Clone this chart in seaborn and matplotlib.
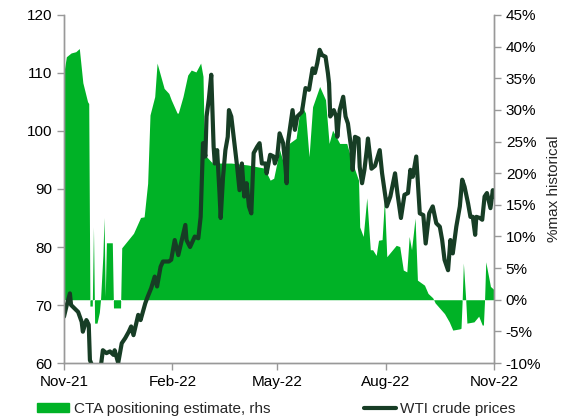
import numpy as np
import pandas as pd
import matplotlib
matplotlib.use("Agg")
import matplotlib.pyplot as plt
import matplotlib.dates as mdates
from matplotlib.patches import Patch
from matplotlib.lines import Line2D
import seaborn as sns

# WTI crude prices (USD/bbl)
wti_dates = [
    "2021-11-01", "2021-11-03", "2021-11-06", "2021-11-07", "2021-11-10", "2021-11-13",
    "2021-11-16", "2021-11-17", "2021-11-20", "2021-11-22", "2021-11-23", "2021-11-25",
    "2021-11-28", "2021-12-02", "2021-12-04", "2021-12-07", "2021-12-10", "2021-12-13",
    "2021-12-14", "2021-12-17", "2021-12-20", "2021-12-23", "2021-12-26", "2021-12-28",
    "2021-12-30", "2022-01-03", "2022-01-05", "2022-01-09", "2022-01-11", "2022-01-14",
    "2022-01-17", "2022-01-19", "2022-01-22", "2022-01-24", "2022-01-29", "2022-01-31",
    "2022-02-03", "2022-02-06", "2022-02-09", "2022-02-12", "2022-02-13", "2022-02-16",
    "2022-02-20", "2022-02-23", "2022-02-25", "2022-02-27", "2022-03-01", "2022-03-02",
    "2022-03-04", "2022-03-06", "2022-03-08", "2022-03-09", "2022-03-11", "2022-03-13",
    "2022-03-14", "2022-03-16", "2022-03-18", "2022-03-20", "2022-03-21", "2022-03-23",
    "2022-03-26", "2022-03-28", "2022-03-30", "2022-04-01", "2022-04-03", "2022-04-05",
    "2022-04-07", "2022-04-09", "2022-04-11", "2022-04-14", "2022-04-16", "2022-04-18",
    "2022-04-21", "2022-04-22", "2022-04-25", "2022-04-28", "2022-04-29", "2022-05-01",
    "2022-05-03", "2022-05-06", "2022-05-08", "2022-05-09", "2022-05-10", "2022-05-12",
    "2022-05-14", "2022-05-16", "2022-05-18", "2022-05-22", "2022-05-25", "2022-05-28",
    "2022-05-31", "2022-06-02", "2022-06-04", "2022-06-06", "2022-06-08", "2022-06-11",
    "2022-06-13", "2022-06-14", "2022-06-15", "2022-06-18", "2022-06-20", "2022-06-21",
    "2022-06-23", "2022-06-26", "2022-06-28", "2022-06-30", "2022-07-03", "2022-07-04",
    "2022-07-06", "2022-07-09", "2022-07-10", "2022-07-12", "2022-07-14", "2022-07-16",
    "2022-07-17", "2022-07-20", "2022-07-23", "2022-07-27", "2022-07-29", "2022-08-02",
    "2022-08-05", "2022-08-09", "2022-08-11", "2022-08-14", "2022-08-17", "2022-08-20",
    "2022-08-22", "2022-08-24", "2022-08-27", "2022-08-30", "2022-09-02", "2022-09-04",
    "2022-09-07", "2022-09-10", "2022-09-13", "2022-09-16", "2022-09-18", "2022-09-20",
    "2022-09-23", "2022-09-25", "2022-09-27", "2022-09-30", "2022-10-03", "2022-10-05",
    "2022-10-07", "2022-10-10", "2022-10-12", "2022-10-14", "2022-10-16", "2022-10-17",
    "2022-10-20", "2022-10-22", "2022-10-24", "2022-10-26", "2022-10-29", "2022-10-31",
    "2022-11-01",
]
wti_prices = [
    68.0, 69.7, 72.0, 70.0, 69.4, 68.8,
    67.1, 65.4, 67.4, 66.6, 60.5, 59.5,
    59.5, 59.0, 62.2, 61.7, 62.0, 61.4,
    62.2, 60.0, 63.4, 64.3, 65.4, 66.3,
    64.8, 68.3, 67.4, 70.3, 71.4, 72.9,
    74.9, 73.2, 76.6, 77.5, 77.5, 77.8,
    81.2, 78.6, 81.2, 83.8, 81.2, 80.0,
    81.8, 81.5, 85.2, 97.9, 95.6, 102.5,
    105.6, 109.7, 97.3, 94.4, 96.7, 89.3,
    85.0, 92.1, 96.7, 99.0, 103.6, 102.5,
    97.3, 93.8, 89.8, 94.4, 88.7, 91.0,
    87.0, 85.8, 96.2, 97.3, 97.9, 94.4,
    94.4, 92.7, 95.9, 95.6, 94.4, 95.6,
    99.6, 97.9, 93.8, 91.0, 97.9, 100.7,
    103.6, 100.2, 102.5, 103.3, 107.4, 107.1,
    110.8, 110.0, 111.7, 114.0, 113.1, 112.8,
    110.0, 108.2, 102.5, 103.6, 102.5, 99.0,
    103.6, 105.9, 102.5, 101.3, 96.7, 93.3,
    99.0, 98.7, 93.8, 91.0, 93.3, 96.7,
    98.7, 93.5, 94.0, 96.7, 92.7, 87.0,
    88.7, 92.7, 89.3, 85.0, 89.0, 89.3,
    93.3, 92.1, 95.6, 85.8, 85.5, 80.6,
    85.8, 87.0, 84.1, 83.5, 81.2, 77.8,
    76.0, 81.2, 78.9, 83.5, 87.0, 91.6,
    90.4, 87.5, 85.2, 85.2, 82.1, 85.2,
    85.0, 84.7, 88.7, 89.3, 86.7, 89.8,
    88.7,
]

# CTA positioning estimate (% of max historical)
cta_dates = [
    "2021-11-01", "2021-11-03", "2021-11-07", "2021-11-11", "2021-11-14", "2021-11-17",
    "2021-11-21", "2021-11-22", "2021-11-23", "2021-11-25", "2021-11-26", "2021-11-27",
    "2021-11-29", "2021-12-01", "2021-12-02", "2021-12-04", "2021-12-05", "2021-12-06",
    "2021-12-07", "2021-12-12", "2021-12-13", "2021-12-19", "2021-12-20", "2021-12-30",
    "2022-01-05", "2022-01-08", "2022-01-11", "2022-01-13", "2022-01-17", "2022-01-19",
    "2022-01-25", "2022-01-29", "2022-01-31", "2022-02-05", "2022-02-06", "2022-02-10",
    "2022-02-14", "2022-02-17", "2022-02-21", "2022-02-25", "2022-02-27", "2022-02-28",
    "2022-03-02", "2022-03-07", "2022-03-12", "2022-03-23", "2022-04-06", "2022-04-20",
    "2022-04-25", "2022-04-28", "2022-05-03", "2022-05-08", "2022-05-11", "2022-05-17",
    "2022-05-21", "2022-05-25", "2022-05-28", "2022-05-31", "2022-06-06", "2022-06-11",
    "2022-06-14", "2022-06-17", "2022-06-23", "2022-06-29", "2022-07-03", "2022-07-09",
    "2022-07-10", "2022-07-13", "2022-07-16", "2022-07-19", "2022-07-21", "2022-07-24",
    "2022-07-26", "2022-07-29", "2022-07-31", "2022-08-02", "2022-08-10", "2022-08-13",
    "2022-08-16", "2022-08-19", "2022-08-21", "2022-08-23", "2022-08-26", "2022-08-28",
    "2022-09-03", "2022-09-06", "2022-09-10", "2022-09-12", "2022-09-20", "2022-09-24",
    "2022-09-27", "2022-10-03", "2022-10-04", "2022-10-05", "2022-10-06", "2022-10-08",
    "2022-10-09", "2022-10-15", "2022-10-19", "2022-10-22", "2022-10-23", "2022-10-24",
    "2022-10-25", "2022-10-29", "2022-11-01",
]
cta_positioning = [
    36.0, 38.4, 39.0, 39.2, 39.7, 34.3,
    31.3, 31.0, -1.0, -1.0, 11.5, -3.7,
    -3.7, -2.0, 0.0, 7.0, 13.0, 0.5,
    9.0, 9.0, -1.3, -1.3, 8.2, 10.5,
    13.0, 13.1, 18.4, 29.2, 32.1, 37.4,
    33.4, 32.6, 31.6, 29.5, 29.5, 32.1,
    35.5, 36.3, 36.0, 37.4, 35.3, 25.8,
    22.6, 21.6, 21.6, 21.6, 21.3, 20.8,
    18.9, 19.2, 23.7, 20.5, 24.7, 25.5,
    31.0, 29.5, 22.6, 30.5, 33.7, 31.6,
    24.7, 26.8, 24.7, 24.7, 22.1, 18.9,
    11.5, 10.0, 16.1, 7.9, 7.9, 7.0,
    9.4, 9.5, 15.8, 6.8, 8.6, 8.4,
    4.7, 4.4, 10.0, 7.9, 12.9, 3.1,
    2.3, 1.0, 0.3, -0.5, -2.2, -3.5,
    -4.8, -4.6, -4.5, 0.0, 5.8, 0.0,
    -3.7, -3.5, -2.6, -4.0, -4.0, 0.0,
    6.0, 2.1, 1.6,
]

green = "#00b226"
dark = "#173d25"

wti = pd.DataFrame({"date": pd.to_datetime(wti_dates), "price": wti_prices})
cta = pd.DataFrame({"date": pd.to_datetime(cta_dates), "pos": cta_positioning})

sns.set_style("ticks")
plt.rcParams["font.family"] = ["Liberation Sans", "DejaVu Sans"]
plt.rcParams["font.size"] = 11

fig = plt.figure(figsize=(5.74, 4.19), dpi=100)
ax = fig.add_axes([64 / 574, 1 - 363 / 419, 430 / 574, 348 / 419])
ax2 = ax.twinx()

# area for CTA positioning (right axis), drawn on primary axes so line sits on top
ax.fill_between(cta["date"], 0, cta["pos"], color=green, linewidth=0)
ax.set_ylim(-10, 45)
ax.set_yticks(np.arange(-10, 46, 5))
ax.yaxis.tick_right()
ax.yaxis.set_label_position("right")
ax.yaxis.set_major_formatter(plt.FuncFormatter(lambda v, p: f"{v:.0f}%"))
ax.set_ylabel("%max historical", fontsize=11, labelpad=4)

sns.lineplot(data=wti, x="date", y="price", ax=ax2, color=dark, linewidth=3.0)
ax2.set_ylim(60, 120)
ax2.set_yticks(np.arange(60, 121, 10))
ax2.yaxis.tick_left()
ax2.set_ylabel("")
ax2.set_xlabel("")
ax.set_xlabel("")

ax.set_xlim(pd.Timestamp("2021-11-01"), pd.Timestamp("2022-11-01"))
ticks = pd.to_datetime(["2021-11-01", "2022-02-01", "2022-05-01", "2022-08-01", "2022-11-01"])
ax.set_xticks(ticks)
ax.xaxis.set_major_formatter(mdates.DateFormatter("%b-%y"))

for a in (ax, ax2):
    a.spines["top"].set_visible(False)
    for s in ("left", "right", "bottom"):
        a.spines[s].set_color("#999999")
        a.spines[s].set_linewidth(1.0)
    a.tick_params(colors="#999999", labelcolor="black", labelsize=11, length=5, width=1)

handles = [Patch(facecolor=green, edgecolor=green),
           Line2D([0], [0], color=dark, linewidth=3.0)]
labels = ["CTA positioning estimate, rhs", "WTI crude prices"]
fig.legend(handles, labels, loc="lower left", bbox_to_anchor=(28 / 574, -0.015), ncol=2,
           frameon=False, fontsize=11, handlelength=2.1, handleheight=0.5,
           handletextpad=0.3, columnspacing=6.1, borderaxespad=0.2)

fig.savefig("out.png", dpi=100)
